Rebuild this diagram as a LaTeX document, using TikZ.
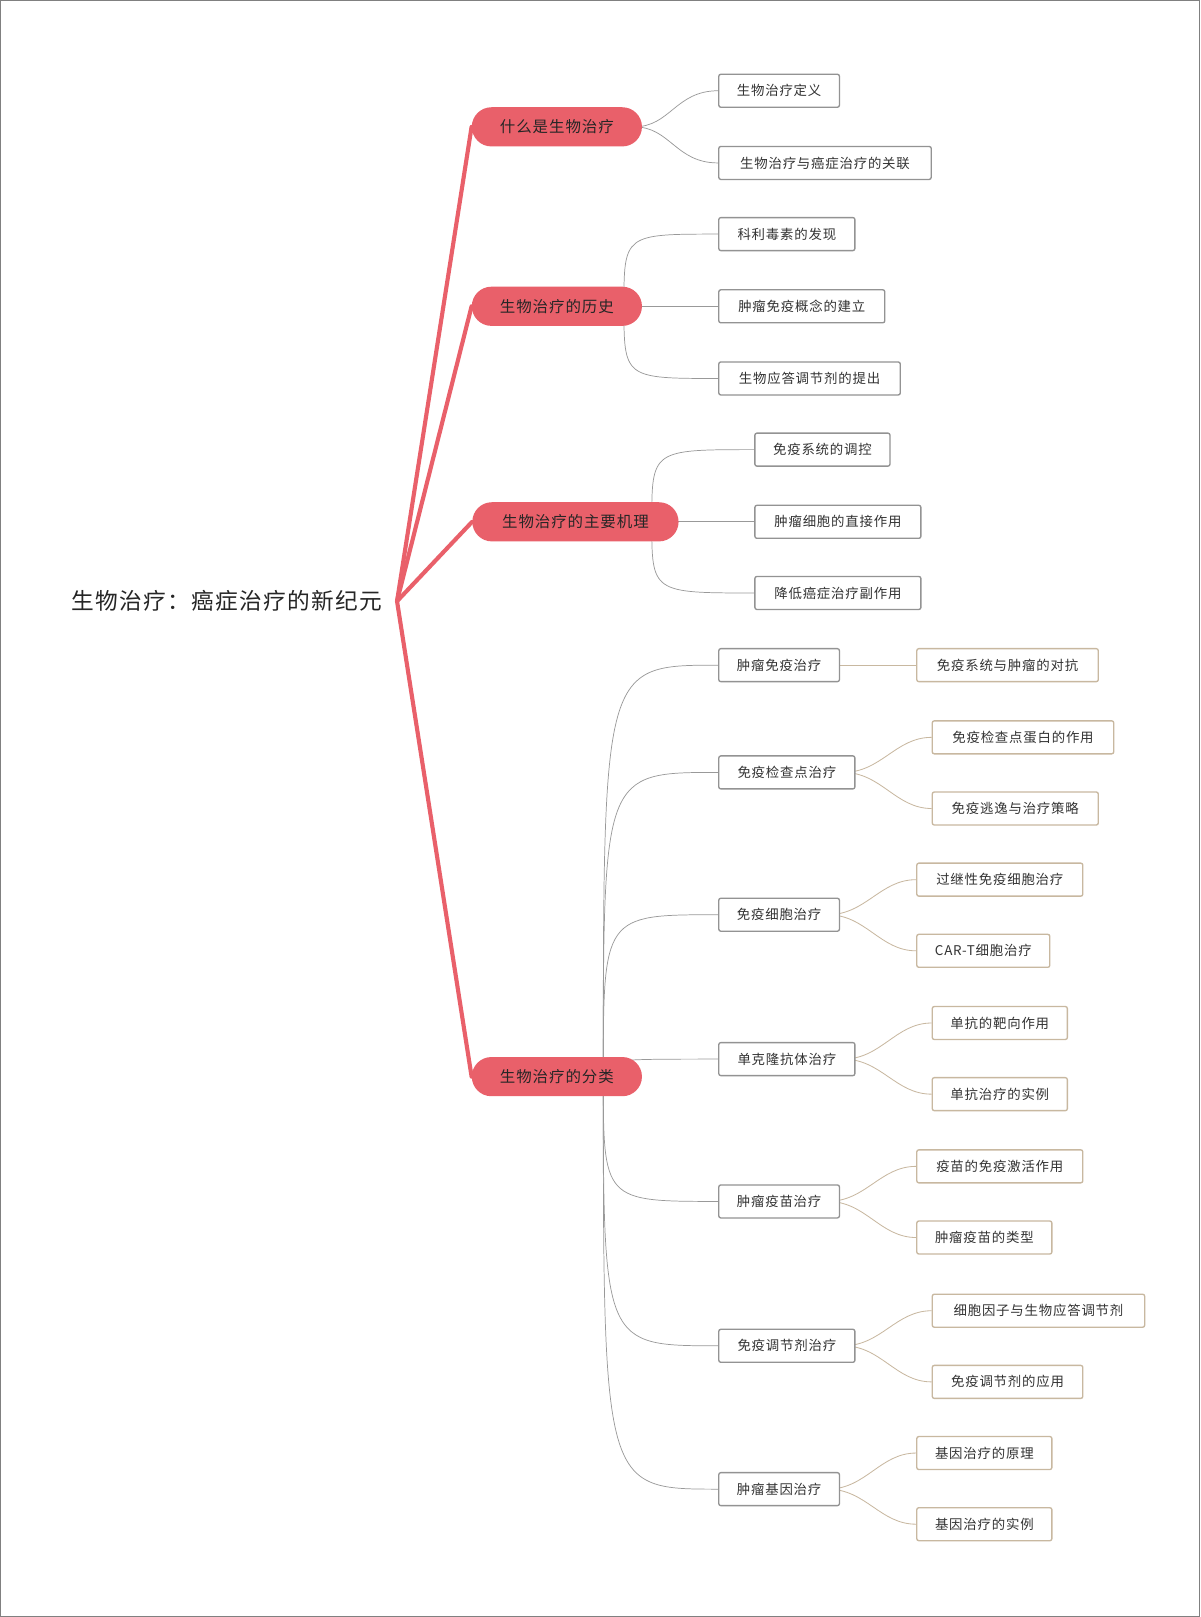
\documentclass[tikz,border=0pt]{standalone}
\usepackage{fontspec}
\setmainfont[LetterSpace=6]{Noto Sans CJK SC}
\usetikzlibrary{backgrounds}
\begin{document}
\begin{tikzpicture}[x=1pt,y=-1pt,
  mainbox/.style={fill=mred,rounded corners=19pt,minimum height=38pt,text=black!85,font=\fontsize{15}{18}\selectfont,inner xsep=10pt},
  childbox/.style={draw=gray!85,fill=white,line width=1.3pt,rounded corners=2pt,minimum height=32pt,text=black!80,font=\fontsize{13}{15}\selectfont,inner xsep=7pt},
  gbox/.style={childbox,draw=tanc},
  link/.style={draw=gray!80,line width=0.7pt},
  glink/.style={draw=tanc,line width=0.8pt},
  rlink/.style={draw=mred,line width=4pt,line cap=round}]
\definecolor{mred}{HTML}{E9606A}
\definecolor{tanc}{HTML}{C8B8A0}
\useasboundingbox (0,0) rectangle (1164,1568);
% root
\node (root) at (220,583) [font=\fontsize{22}{25}\selectfont,text=black!85] {生物治疗：癌症治疗的新纪元};
\coordinate (rh) at (385,583);
% main
\node[mainbox,minimum width=165pt] (m1) at (540,123) {什么是生物治疗};
\node[mainbox,minimum width=165pt] (m2) at (540,297) {生物治疗的历史};
\node[mainbox,minimum width=200pt] (m3) at (558,506) {生物治疗的主要机理};
\node[mainbox,minimum width=165pt] (m4) at (540,1044) {生物治疗的分类};
\foreach \n/\l/\r/\y/\t in {a1/697/814/88/生物治疗定义,a2/697/903/158/生物治疗与癌症治疗的关联,
 b1/697/829/227/科利毒素的发现,b2/697/858/297/肿瘤免疫概念的建立,b3/697/873/367/生物应答调节剂的提出,
 c1/732/863/436/免疫系统的调控,c2/732/893/506/肿瘤细胞的直接作用,c3/732/893/575/降低癌症治疗副作用,
 d1/697/814/645/肿瘤免疫治疗,d2/697/829/749/免疫检查点治疗,d3/697/814/887/免疫细胞治疗,d4/697/829/1027/单克隆抗体治疗,
 d5/697/814/1165/肿瘤疫苗治疗,d6/697/829/1305/免疫调节剂治疗,d7/697/814/1444/肿瘤基因治疗}{
  \pgfmathsetmacro\w{\r-\l}
  \node[childbox,minimum width=\w pt] (\n) at ({(\l+\r)/2},\y) {\t};
}
\foreach \n/\l/\r/\y/\t in {e1/889/1065/645/免疫系统与肿瘤的对抗,e2/904/1080/715/免疫检查点蛋白的作用,e3/904/1065/784/免疫逃逸与治疗策略,
 e4/889/1050/853/过继性免疫细胞治疗,e5/889/1018/922/CAR-T细胞治疗,e6/904/1035/992/单抗的靶向作用,e7/904/1035/1061/单抗治疗的实例,
 e8/889/1050/1131/疫苗的免疫激活作用,e9/889/1020/1200/肿瘤疫苗的类型,e10/904/1110/1271/细胞因子与生物应答调节剂,e11/904/1050/1340/免疫调节剂的应用,
 e12/889/1020/1409/基因治疗的原理,e13/889/1020/1478/基因治疗的实例}{
  \pgfmathsetmacro\w{\r-\l}
  \node[gbox,minimum width=\w pt] (\n) at ({(\l+\r)/2},\y) {\t};
}
\begin{scope}[on background layer]
\fill[white] (0,0) rectangle (1164,1568);
\draw[gray,line width=1pt] (0.5,0.5) rectangle (1163.5,1567.5);
\foreach \m in {m1,m2,m3,m4}{\draw[rlink] (rh) -- (\m.west);}
\coordinate (h1) at (615,123);
\coordinate (h2) at (605,297);
\coordinate (h3) at (632,506);
\coordinate (h4) at (585,1044);
\draw[link] (h1) .. controls (650,123) and (655,88) .. (a1.west);
\draw[link] (h1) .. controls (650,123) and (655,158) .. (a2.west);
\foreach \h/\c in {h2/b1,h2/b2,h2/b3,h3/c1,h3/c2,h3/c3,h4/d1,h4/d2,h4/d3,h4/d4,h4/d5,h4/d6,h4/d7}{
  \draw[link] (\h) .. controls (\h |- \c.west) .. (\c.west);
}
\draw[glink] (d1.east) -- (e1.west);
\foreach \p/\c in {d2/e2,d2/e3,d3/e4,d3/e5,d4/e6,d4/e7,d5/e8,d5/e9,d6/e10,d6/e11,d7/e12,d7/e13}{
  \draw[glink] ([xshift=-12pt]\p.east) .. controls ([xshift=25pt]\p.east) and ([xshift=-35pt]\c.west) .. (\c.west);
}
\end{scope}
\end{tikzpicture}
\end{document}
